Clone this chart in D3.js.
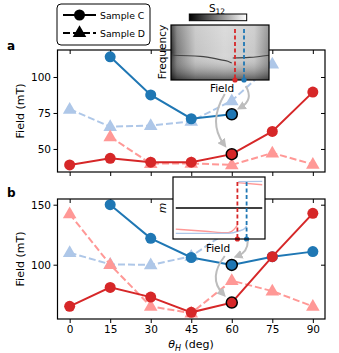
<!DOCTYPE html>
<html>
<head>
<style>
  body { margin: 0; background: #fff; }
  text { font-family: "DejaVu Sans", sans-serif; fill: #000; }
  .tick text { font-size: 10.5px; }
</style>
<script src="https://d3js.org/d3.v7.min.js"></script>
</head>
<body>
<svg id="chart" width="339" height="353"></svg>
<script>
// ---- data ----
const angles = [0, 15, 30, 45, 60, 75, 90];
const xTicks = [0, 15, 30, 45, 60, 75, 90];

// panel a
const aRedC  = [38.9, 43.5, 40.8, 40.8, 46.4, 62.2, 89.5];
const aBlueC = [null, 114, 87.5, 71, 74.1, null, null];
const aRedD  = [null, 58.5, 39.8, 40, 38.9, 47.2, 39.4];
const aBlueD = [77.6, 65.5, 66.2, 69.2, 83.5, 109, null];
const aTicks = [50, 75, 100];

// panel b
const bRedC  = [65.3, 81.1, 73, 60.3, 68.4, 106.7, 142.8];
const bBlueC = [null, 150, 122, 106, 99.8, 106.7, 110.9];
const bRedD  = [142.3, 100, 65.3, 59.6, 86.7, 78, 65.3];
const bBlueD = [110, 100.3, 99.8, 107, 130, null, null];
const bTicks = [100, 150];

// inset a: resonance curve (field, frequency in 0..1) and marker fields
const specLeft  = [[0, 0.45], [0.3, 0.43], [0.5, 0.37], [0.58, 0.34], [0.62, 0.31]];
const specRight = [[0.63, 0.40], [0.8, 0.41], [1, 0.45]];
const specMarks = [0.653, 0.745];

// inset b: magnetisation branches (field 0..1, m -1..1)
const mRedLow  = [[0.03, -0.68], [0.35, -0.75], [0.6, -0.8], [0.66, -0.7], [0.7, -0.55]];
const mRedHigh = [[0.7, 0.82], [0.97, 0.75]];
const mBlueLow = [[0.03, -0.82], [0.6, -0.82], [0.72, -0.74], [0.78, -0.66], [0.8, -0.58]];
const mBlueHigh = [[0.71, 0.85], [0.97, 0.86]];
const mMarks = [0.7, 0.8];

const RED = "#d62728", BLUE = "#1f77b4", LRED = "#ff9896", LBLUE = "#aec7e8", GREY = "#bdbdbd";

const svg = d3.select("#chart");
const defs = svg.append("defs");

const x = d3.scaleLinear().domain([-4.5, 94.5]).range([57.5, 325]);

defs.append("marker").attr("id", "arrow")
  .attr("viewBox", "0 0 10 10").attr("refX", 5).attr("refY", 5)
  .attr("markerWidth", 4.5).attr("markerHeight", 4.5).attr("orient", "auto-start-reverse")
  .append("path").attr("d", "M0,0 L10,5 L0,10 z").attr("fill", GREY);

function panel(top, bottom, domain, ticks, series, label) {
  const y = d3.scaleLinear().domain(domain).range([bottom, top]);
  const g = svg.append("g");

  g.append("g").attr("transform", `translate(0,${bottom})`)
    .call(d3.axisBottom(x).tickValues(xTicks).tickSize(4).tickPadding(3).tickFormat(label === "b" ? d3.format("d") : ""))
    .call(a => a.select(".domain").remove());
  g.append("g").attr("transform", `translate(0,${top})`)
    .call(d3.axisBottom(x).tickValues(xTicks).tickSize(4).tickFormat(""))
    .call(a => a.select(".domain").remove());
  g.append("g").attr("transform", "translate(57.5,0)")
    .call(d3.axisLeft(y).tickValues(ticks).tickSize(4).tickPadding(2.5))
    .call(a => a.select(".domain").remove());
  g.append("g").attr("transform", "translate(325,0)")
    .call(d3.axisLeft(y).tickValues(ticks).tickSize(4).tickFormat(""))
    .call(a => a.select(".domain").remove());
  g.selectAll(".tick line").attr("stroke", "#000").attr("stroke-width", 1);

  series.forEach(s => {
    const pts = angles.map((a, i) => [a, s.vals[i]]).filter(p => p[1] != null);
    g.append("path").datum(pts)
      .attr("fill", "none").attr("stroke", s.color).attr("stroke-width", 2)
      .attr("stroke-dasharray", s.dash ? "7,3" : null)
      .attr("d", d3.line().x(p => x(p[0])).y(p => y(p[1])));
    if (s.dash) {
      g.selectAll(null).data(pts).join("path")
        .attr("transform", p => `translate(${x(p[0])},${y(p[1]) + 0.5})`)
        .attr("d", d3.symbol(d3.symbolTriangle, 80)).attr("fill", s.color);
    } else {
      g.selectAll(null).data(pts).join("circle")
        .attr("cx", p => x(p[0])).attr("cy", p => y(p[1])).attr("r", 5.5)
        .attr("fill", s.color)
        .attr("stroke", p => p[0] === 60 ? "#000" : "none").attr("stroke-width", 1.5);
    }
  });

  g.append("rect").attr("x", 57.5).attr("y", top).attr("width", 325 - 57.5).attr("height", bottom - top)
    .attr("fill", "none").attr("stroke", "#000").attr("stroke-width", 1.2);

  g.append("text").attr("transform", `translate(24,${(top + bottom) / 2}) rotate(-90)`)
    .attr("text-anchor", "middle").style("font-size", "11px").text("Field (mT)");
  g.append("text").attr("x", 7).attr("y", top - (label === "a" ? 0 : 2))
    .style("font-size", "12px").style("font-weight", "bold").text(label);
  return y;
}

const yA = panel(50, 172, [34, 118.75], aTicks, [
  { vals: aBlueD, color: LBLUE, dash: true },
  { vals: aRedD, color: LRED, dash: true },
  { vals: aBlueC, color: BLUE },
  { vals: aRedC, color: RED }
], "a");

const yB = panel(199, 319, [54.75, 154.75], bTicks, [
  { vals: bBlueD, color: LBLUE, dash: true },
  { vals: bRedD, color: LRED, dash: true },
  { vals: bBlueC, color: BLUE },
  { vals: bRedC, color: RED }
], "b");

// x label
const xl = svg.append("text").attr("x", 191).attr("y", 348).attr("text-anchor", "middle").style("font-size", "11px");
xl.append("tspan").style("font-style", "italic").text("θ");
xl.append("tspan").style("font-style", "italic").style("font-size", "8px").attr("dy", 2.5).text("H");
xl.append("tspan").attr("dy", -2.5).text(" (deg)");

// ---- legend ----
const lg = svg.append("g");
lg.append("rect").attr("x", 57).attr("y", 4).attr("width", 93).attr("height", 41).attr("rx", 4)
  .attr("fill", "#fff").attr("stroke", "#000").attr("stroke-width", 1);
[{ t: "Sample C", dash: false, yy: 15 }, { t: "Sample D", dash: true, yy: 33 }].forEach(e => {
  lg.append("line").attr("x1", 63).attr("x2", 96).attr("y1", e.yy).attr("y2", e.yy)
    .attr("stroke", "#000").attr("stroke-width", 2).attr("stroke-dasharray", e.dash ? "7,3" : null);
  if (e.dash) lg.append("path").attr("transform", `translate(79.5,${e.yy})`).attr("d", d3.symbol(d3.symbolTriangle, 80));
  else lg.append("circle").attr("cx", 79.5).attr("cy", e.yy).attr("r", 5.5);
  lg.append("text").attr("x", 100).attr("y", e.yy + 3.5).style("font-size", "9.3px").text(e.t);
});

// ---- inset a: spectrum image ----
const ia = { x0: 171, x1: 269, y0: 25, y1: 80 };
const fxA = d3.scaleLinear().domain([0, 1]).range([ia.x0, ia.x1]);
const fyA = d3.scaleLinear().domain([0, 1]).range([ia.y1, ia.y0]);
const hg = defs.append("linearGradient").attr("id", "imgH");
[[0, "#2a2a2a"], [0.06, "#7a7a7a"], [0.25, "#c4c4c4"], [0.55, "#d6d6d6"], [0.85, "#c8c8c8"], [1, "#8a8a8a"]]
  .forEach(s => hg.append("stop").attr("offset", s[0]).attr("stop-color", s[1]));
const vg = defs.append("linearGradient").attr("id", "imgV").attr("x1", 0).attr("x2", 0).attr("y1", 0).attr("y2", 1);
[[0, "#fff", 0.15], [0.5, "#fff", 0], [1, "#000", 0.55]]
  .forEach(s => vg.append("stop").attr("offset", s[0]).attr("stop-color", s[1]).attr("stop-opacity", s[2]));
const cg = defs.append("linearGradient").attr("id", "cbar");
cg.append("stop").attr("offset", 0).attr("stop-color", "#000");
cg.append("stop").attr("offset", 1).attr("stop-color", "#fff");

svg.append("rect").attr("x", ia.x0).attr("y", ia.y0).attr("width", ia.x1 - ia.x0).attr("height", ia.y1 - ia.y0).attr("fill", "url(#imgH)");
svg.append("rect").attr("x", ia.x0).attr("y", ia.y0).attr("width", ia.x1 - ia.x0).attr("height", ia.y1 - ia.y0).attr("fill", "url(#imgV)");
const specLine = d3.line().x(p => fxA(p[0])).y(p => fyA(p[1])).curve(d3.curveMonotoneX);
[specLeft, specRight].forEach(c => svg.append("path").attr("d", specLine(c))
  .attr("fill", "none").attr("stroke", "#444").attr("stroke-width", 1.2));
svg.append("rect").attr("x", ia.x0).attr("y", ia.y0).attr("width", ia.x1 - ia.x0).attr("height", ia.y1 - ia.y0)
  .attr("fill", "none").attr("stroke", "#000").attr("stroke-width", 1.2);
specMarks.forEach((f, i) => {
  const c = i === 0 ? RED : BLUE;
  svg.append("line").attr("x1", fxA(f)).attr("x2", fxA(f)).attr("y1", 29).attr("y2", ia.y1)
    .attr("stroke", c).attr("stroke-width", 1.8).attr("stroke-dasharray", "4,2.5");
  svg.append("circle").attr("cx", fxA(f)).attr("cy", ia.y1).attr("r", 2.6).attr("fill", c);
});
svg.append("rect").attr("x", 189.3).attr("y", 14).attr("width", 57.4).attr("height", 6.7)
  .attr("fill", "url(#cbar)").attr("stroke", "#000").attr("stroke-width", 1);
const s12 = svg.append("text").attr("x", 217).attr("y", 11.5).attr("text-anchor", "middle").style("font-size", "10.5px");
s12.append("tspan").text("S");
s12.append("tspan").attr("dy", 2).style("font-size", "7.5px").text("12");
svg.append("text").attr("transform", "translate(165.5,52) rotate(-90)").attr("text-anchor", "middle")
  .style("font-size", "10.5px").text("Frequency");
svg.append("text").attr("x", 222).attr("y", 92).attr("text-anchor", "middle").style("font-size", "10.5px").text("Field");

// ---- inset b: magnetisation ----
const ib = { x0: 173, x1: 265, y0: 177, y1: 239 };
const fxB = d3.scaleLinear().domain([0, 1]).range([ib.x0, ib.x1]);
const myB = d3.scaleLinear().domain([-1, 1]).range([ib.y1, ib.y0]);
svg.append("rect").attr("x", ib.x0).attr("y", ib.y0).attr("width", ib.x1 - ib.x0).attr("height", ib.y1 - ib.y0)
  .attr("fill", "#fff");
svg.append("line").attr("x1", fxB(0.03)).attr("x2", fxB(0.97)).attr("y1", myB(0)).attr("y2", myB(0))
  .attr("stroke", "#000").attr("stroke-width", 1.5);
const mLine = d3.line().x(p => fxB(p[0])).y(p => myB(p[1])).curve(d3.curveMonotoneX);
[[mRedLow, LRED], [mRedHigh, LRED], [mBlueLow, LBLUE], [mBlueHigh, LBLUE]].forEach(c =>
  svg.append("path").attr("d", mLine(c[0])).attr("fill", "none").attr("stroke", c[1]).attr("stroke-width", 1.4));
mMarks.forEach((f, i) => {
  const c = i === 0 ? RED : BLUE;
  svg.append("line").attr("x1", fxB(f)).attr("x2", fxB(f)).attr("y1", myB(0.84)).attr("y2", ib.y1)
    .attr("stroke", c).attr("stroke-width", 1.8).attr("stroke-dasharray", "4,2.5");
  svg.append("circle").attr("cx", fxB(f)).attr("cy", ib.y1).attr("r", 2.6).attr("fill", c);
});
svg.append("rect").attr("x", ib.x0).attr("y", ib.y0).attr("width", ib.x1 - ib.x0).attr("height", ib.y1 - ib.y0)
  .attr("fill", "none").attr("stroke", "#000").attr("stroke-width", 1.2);
svg.append("text").attr("transform", "translate(166,208) rotate(-90)").attr("text-anchor", "middle")
  .style("font-size", "10.5px").style("font-style", "italic").text("m");
svg.append("text").attr("x", 218).attr("y", 252).attr("text-anchor", "middle").style("font-size", "10.5px").text("Field");

// ---- grey arrows from the insets to the highlighted points ----
function arrow(sx, sy, cx, cy, ex, ey) {
  svg.append("path").attr("d", `M${sx},${sy} Q${cx},${cy} ${ex},${ey}`)
    .attr("fill", "none").attr("stroke", GREY).attr("stroke-width", 2).attr("marker-end", "url(#arrow)");
}
const px = x(60);
arrow(px - 7, 94, px - 24, yA(aRedC[4]) - 32, px - 8, yA(aRedC[4]) - 10);
arrow(px + 14, 86, px + 22, 100, px + 9, yA(aBlueC[4]) - 7);
arrow(px - 7, 256, px - 24, yB(bRedC[4]) - 25, px - 9, yB(bRedC[4]) - 9);
arrow(px + 16, 241, px + 16, 252, px + 6, yB(bBlueC[4]) - 9);
</script>
</body>
</html>
